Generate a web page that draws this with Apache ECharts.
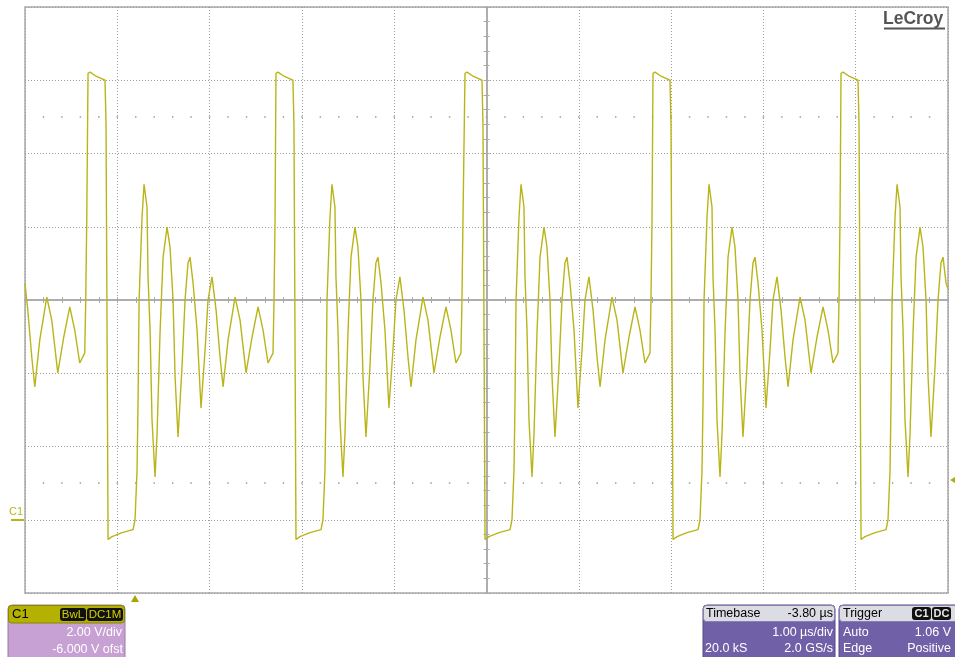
<!DOCTYPE html>
<html><head><meta charset="utf-8">
<script src="https://cdn.jsdelivr.net/npm/echarts@6/dist/echarts.min.js"></script>
<style>html,body{margin:0;padding:0;background:#fff}#c{width:955px;height:657px}</style>
</head><body><div id="c"></div>
<script>
// Time window (µs across 10 divisions) and voltage window (2 V/div, -6 V offset)
const timeRangeUs = [0, 10];
const voltRange = [-2, 14];

// Trace samples [time µs, volts]
const tailBefore = [[0,6.45],[0.030,5.73],[0.073,4.45],[0.106,3.63],[0.160,4.91],[0.236,6.08],[0.290,5.45],[0.355,4.01],[0.420,4.99],[0.485,5.81],[0.539,5.18],[0.593,4.28],[0.647,4.55],[0.658,6.00],[0.669,8.18]];
const cycle1 = [[0.683,12.19],[0.705,12.22],[0.770,12.11],[0.824,12.05],[0.867,12.00],[0.878,10.77],[0.900,-0.54],[0.943,-0.46],[1.051,-0.35],[1.171,-0.27],[1.192,0.00],[1.214,1.36],[1.225,3.27],[1.236,6.00],[1.268,8.26],[1.290,9.16],[1.322,8.54],[1.333,6.63],[1.355,5.18],[1.376,2.73],[1.409,1.17],[1.431,2.37],[1.463,5.10],[1.496,7.17],[1.539,7.99],[1.571,7.45],[1.604,6.00],[1.626,3.90],[1.658,2.26],[1.701,4.17],[1.734,6.00],[1.766,7.01],[1.788,7.17],[1.821,6.46],[1.864,5.18],[1.907,3.05],[1.951,4.64],[1.983,6.00],[2.026,6.63],[2.070,5.73],[2.113,4.45],[2.146,3.63],[2.200,4.91],[2.276,6.08],[2.330,5.45],[2.395,4.01],[2.460,4.99],[2.525,5.81],[2.579,5.18],[2.633,4.28],[2.687,4.55],[2.698,6.00],[2.709,8.18]];
const cycle2 = [[2.719,12.19],[2.741,12.22],[2.806,12.11],[2.860,12.05],[2.903,12.00],[2.914,10.77],[2.936,-0.54],[2.979,-0.46],[3.087,-0.35],[3.207,-0.27],[3.228,0.00],[3.250,1.36],[3.261,3.27],[3.272,6.00],[3.304,8.26],[3.326,9.16],[3.358,8.54],[3.369,6.63],[3.391,5.18],[3.412,2.73],[3.445,1.17],[3.467,2.37],[3.499,5.10],[3.532,7.17],[3.575,7.99],[3.607,7.45],[3.640,6.00],[3.662,3.90],[3.694,2.26],[3.737,4.17],[3.770,6.00],[3.802,7.01],[3.824,7.17],[3.857,6.46],[3.900,5.18],[3.943,3.05],[3.987,4.64],[4.019,6.00],[4.062,6.63],[4.106,5.73],[4.149,4.45],[4.182,3.63],[4.236,4.91],[4.312,6.08],[4.366,5.45],[4.431,4.01],[4.496,4.99],[4.561,5.81],[4.615,5.18],[4.669,4.28],[4.723,4.55],[4.734,6.00],[4.745,8.18]];
const cycle3 = [[4.767,12.19],[4.789,12.22],[4.854,12.11],[4.908,12.05],[4.951,12.00],[4.962,10.77],[4.984,-0.54],[5.027,-0.46],[5.135,-0.35],[5.255,-0.27],[5.276,0.00],[5.298,1.36],[5.309,3.27],[5.320,6.00],[5.352,8.26],[5.374,9.16],[5.406,8.54],[5.417,6.63],[5.439,5.18],[5.460,2.73],[5.493,1.17],[5.515,2.37],[5.547,5.10],[5.580,7.17],[5.623,7.99],[5.655,7.45],[5.688,6.00],[5.710,3.90],[5.742,2.26],[5.785,4.17],[5.818,6.00],[5.850,7.01],[5.872,7.17],[5.905,6.46],[5.948,5.18],[5.991,3.05],[6.035,4.64],[6.067,6.00],[6.110,6.63],[6.154,5.73],[6.197,4.45],[6.230,3.63],[6.284,4.91],[6.360,6.08],[6.414,5.45],[6.479,4.01],[6.544,4.99],[6.609,5.81],[6.663,5.18],[6.717,4.28],[6.771,4.55],[6.782,6.00],[6.793,8.18]];
const cycle4 = [[6.804,12.19],[6.826,12.22],[6.891,12.11],[6.945,12.05],[6.988,12.00],[6.999,10.77],[7.021,-0.54],[7.064,-0.46],[7.172,-0.35],[7.292,-0.27],[7.313,0.00],[7.335,1.36],[7.346,3.27],[7.357,6.00],[7.389,8.26],[7.411,9.16],[7.443,8.54],[7.454,6.63],[7.476,5.18],[7.497,2.73],[7.530,1.17],[7.552,2.37],[7.584,5.10],[7.617,7.17],[7.660,7.99],[7.692,7.45],[7.725,6.00],[7.747,3.90],[7.779,2.26],[7.822,4.17],[7.855,6.00],[7.887,7.01],[7.909,7.17],[7.942,6.46],[7.985,5.18],[8.028,3.05],[8.072,4.64],[8.104,6.00],[8.147,6.63],[8.191,5.73],[8.234,4.45],[8.267,3.63],[8.321,4.91],[8.397,6.08],[8.451,5.45],[8.516,4.01],[8.581,4.99],[8.646,5.81],[8.700,5.18],[8.754,4.28],[8.808,4.55],[8.819,6.00],[8.830,8.18]];
const cycle5 = [[8.841,12.19],[8.863,12.22],[8.928,12.11],[8.982,12.05],[9.025,12.00],[9.036,10.77],[9.058,-0.54],[9.101,-0.46],[9.209,-0.35],[9.329,-0.27],[9.350,0.00],[9.372,1.36],[9.383,3.27],[9.394,6.00],[9.426,8.26],[9.448,9.16],[9.480,8.54],[9.491,6.63],[9.513,5.18],[9.534,2.73],[9.567,1.17],[9.589,2.37],[9.621,5.10],[9.654,7.17],[9.697,7.99],[9.729,7.45],[9.762,6.00],[9.784,3.90],[9.816,2.26],[9.859,4.17],[9.892,6.00],[9.924,7.01],[9.946,7.17],[9.979,6.46],[10.0,6.30]];

// Graticule marker rows (volts) and trigger info
const markerRowsV = [11, 1];
const channelInfo = ['C1', 'BwL', 'DC1M', '2.00 V/div', '-6.000 V ofst'];
const timebaseInfo = ['Timebase', '-3.80 µs', '1.00 µs/div', '20.0 kS', '2.0 GS/s'];
const triggerInfo = ['Trigger', 'C1', 'DC', 'Auto', '1.06 V', 'Edge', 'Positive'];

const trace = [].concat(tailBefore, cycle1, cycle2, cycle3, cycle4, cycle5);

const FONT = "'Liberation Sans', Arial, sans-serif";
const TRACE = '#b9b518';
const GRID = '#9c9c9c';
const BORDER = '#a9a9a9';

const gridRect = {left: 25, top: 7, width: 923, height: 586};

function txt(x, y, s, fill, align, size, weight) {
  return {type: 'text', x: x, y: y, z: 100,
    style: {text: s, fill: fill, font: (weight || 'normal') + ' ' + (size || 12.5) + 'px ' + FONT,
      textAlign: align || 'left', align: align || 'left', textVerticalAlign: 'middle', verticalAlign: 'middle'}};
}
function rect(x, y, w, h, fill, stroke, r) {
  return {type: 'rect', z: 99, shape: {x: x, y: y, width: w, height: h, r: r || 0},
    style: {fill: fill, stroke: stroke || null, lineWidth: stroke ? 1 : 0}};
}

const graphics = [
  // LeCroy logo
  {type: 'rect', z: 98, shape: {x: 880, y: 9, width: 67, height: 22}, style: {fill: '#fff'}},
  txt(883, 19, 'LeCroy', '#555', 'left', 17.5, 'bold'),
  {type: 'line', z: 100, shape: {x1: 884, y1: 28.5, x2: 945, y2: 28.5}, style: {stroke: '#555', lineWidth: 2}},
  // C1 ground marker
  txt(9, 512, 'C1', TRACE, 'left', 11),
  {type: 'line', z: 100, shape: {x1: 11, y1: 520, x2: 24, y2: 520}, style: {stroke: TRACE, lineWidth: 2}},
  // trigger time marker
  {type: 'polygon', z: 100, shape: {points: [[135, 595], [131, 602], [139, 602]]}, style: {fill: '#a8a400'}},
  // trigger level marker
  {type: 'polygon', z: 100, shape: {points: [[950, 480], [955, 477], [955, 483]]}, style: {fill: '#b0ac10'}},

  // channel box
  rect(8, 605, 117, 60, '#c7a1d3', '#9a7aa8', 4),
  rect(8.5, 605.5, 116, 17.5, '#b5b100', '#8a8600', 3),
  txt(12, 614.5, channelInfo[0], '#000', 'left', 13),
  rect(60, 608, 26, 13, '#111', null, 3),
  txt(73, 614.5, channelInfo[1], '#d4d000', 'center', 11.5),
  rect(87, 608, 36, 13, '#111', null, 3),
  txt(105, 614.5, channelInfo[2], '#d4d000', 'center', 11.5),
  txt(122, 633, channelInfo[3], '#fff', 'right', 12.5),
  txt(123, 650, channelInfo[4], '#fff', 'right', 12.5),

  // timebase box
  rect(703, 605, 132, 60, '#7060a8', '#56488a', 4),
  rect(703.5, 605.5, 131, 16, '#dcdce4', '#8a80b0', 3),
  txt(706, 614, timebaseInfo[0], '#000', 'left', 12.5),
  txt(833, 614, timebaseInfo[1], '#000', 'right', 12.5),
  txt(833, 633, timebaseInfo[2], '#fff', 'right', 12.5),
  txt(705, 649, timebaseInfo[3], '#fff', 'left', 12.5),
  txt(833, 649, timebaseInfo[4], '#fff', 'right', 12.5),

  // trigger box
  rect(839, 605, 125, 60, '#7060a8', '#56488a', 4),
  rect(839.5, 605.5, 124, 16, '#dcdce4', '#8a80b0', 3),
  txt(843, 614, triggerInfo[0], '#000', 'left', 12.5),
  rect(912, 607, 19, 13, '#111', null, 3),
  txt(921.5, 613.5, triggerInfo[1], '#e8e8e8', 'center', 11, 'bold'),
  rect(932, 607, 19, 13, '#111', null, 3),
  txt(941.5, 613.5, triggerInfo[2], '#e8e8e8', 'center', 11, 'bold'),
  txt(843, 633, triggerInfo[3], '#fff', 'left', 12.5),
  txt(951, 633, triggerInfo[4], '#fff', 'right', 12.5),
  txt(843, 649, triggerInfo[5], '#fff', 'left', 12.5),
  txt(951, 649, triggerInfo[6], '#fff', 'right', 12.5)
];

const centerAxisLine = {show: true, onZero: true, lineStyle: {color: BORDER, width: 1.5}};
const centerTick = {show: true, inside: true, length: 3, lineStyle: {color: BORDER, width: 1}};
const centerMinor = {show: true, splitNumber: 5, length: 3, lineStyle: {color: BORDER, width: 1}};

const option = {
  animation: false,
  backgroundColor: '#fff',
  grid: [
    Object.assign({show: true, borderColor: BORDER, borderWidth: 1.5, backgroundColor: 'transparent'}, gridRect),
    Object.assign({show: false}, gridRect)
  ],
  xAxis: [
    {gridIndex: 0, type: 'value', min: timeRangeUs[0], max: timeRangeUs[1], interval: 1,
      axisLine: {show: false}, axisTick: {show: false}, axisLabel: {show: false},
      splitLine: {show: true, lineStyle: {color: GRID, type: [1, 2], width: 1}}},
    {gridIndex: 1, type: 'value', min: -5, max: 5, interval: 1, position: 'bottom',
      axisLine: centerAxisLine, axisTick: centerTick, minorTick: centerMinor,
      axisLabel: {show: false}, splitLine: {show: false}},
    {gridIndex: 1, type: 'value', min: -5, max: 5, interval: 1, position: 'top',
      axisLine: centerAxisLine, axisTick: centerTick, minorTick: centerMinor,
      axisLabel: {show: false}, splitLine: {show: false}}
  ],
  yAxis: [
    {gridIndex: 0, type: 'value', min: voltRange[0], max: voltRange[1], interval: 2,
      axisLine: {show: false}, axisTick: {show: false}, axisLabel: {show: false},
      splitLine: {show: true, lineStyle: {color: GRID, type: [1, 2], width: 1}}},
    {gridIndex: 1, type: 'value', min: -4, max: 4, interval: 1, position: 'left',
      axisLine: centerAxisLine, axisTick: centerTick, minorTick: centerMinor,
      axisLabel: {show: false}, splitLine: {show: false}},
    {gridIndex: 1, type: 'value', min: -4, max: 4, interval: 1, position: 'right',
      axisLine: centerAxisLine, axisTick: centerTick, minorTick: centerMinor,
      axisLabel: {show: false}, splitLine: {show: false}}
  ],
  series: [{
    type: 'line', xAxisIndex: 0, yAxisIndex: 0, data: trace,
    showSymbol: false, symbol: 'none', clip: true, z: 10,
    lineStyle: {color: TRACE, width: 1.4},
    markLine: {
      silent: true, symbol: ['none', 'none'], label: {show: false},
      lineStyle: {color: GRID, type: [1.5, 16.96], dashOffset: 0.75, width: 1.5},
      data: markerRowsV.map(v => ({yAxis: v}))
    }
  }],
  graphic: graphics
};

const chart = echarts.init(document.getElementById('c'), null, {renderer: 'canvas'});
chart.setOption(option);
</script>
</body></html>
